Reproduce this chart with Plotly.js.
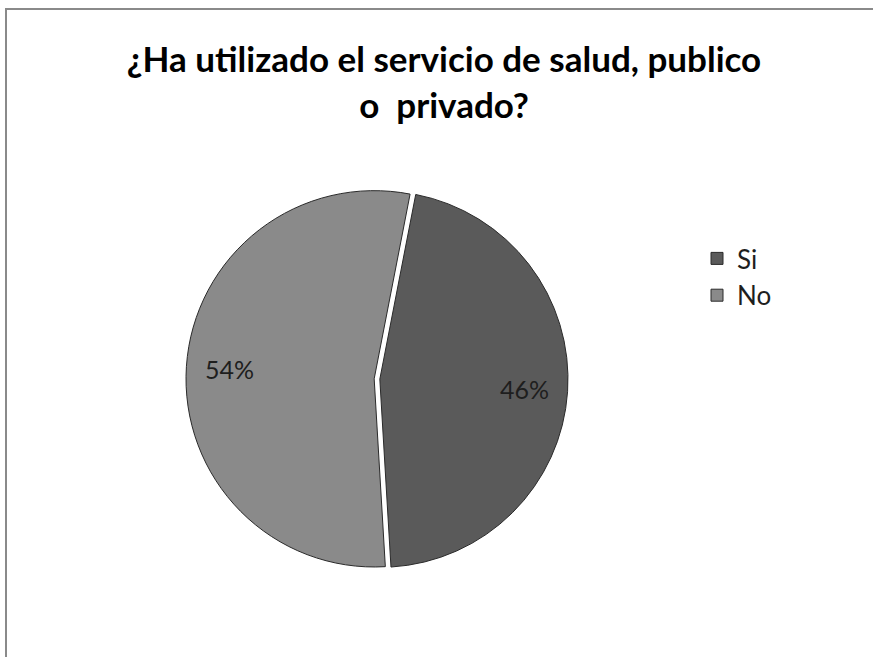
<!DOCTYPE html>
<html>
<head>
<meta charset="utf-8">
<script src="https://cdn.plot.ly/plotly-3.0.1.min.js"></script>
<style>
  html, body { margin: 0; padding: 0; background: #ffffff; }
  #chart { width: 873px; height: 657px; }
</style>
</head>
<body>
<div id="chart"></div>
<script>
// ---- data ----
var categories = ['Si', 'No'];
var values = [46, 54];
var sliceColors = ['#5a5a5a', '#8a8a8a'];
var titleText = '¿Ha utilizado el servicio de salud, publico<br>o  privado?';

// ---- layout geometry ----
var W = 873, H = 657;
var cx = 377, cy = 379, R = 191;   // pie centre / outer radius (px)
var pull = 0.015;
var rotation = 11;

var domX = [(cx - R) / W, (cx + R) / W];
var domY = [(H - cy - R) / H, (H - cy + R) / H];

// percent labels placed along each slice's mid-angle
var total = values.reduce(function (a, b) { return a + b; }, 0);
var rIn = R / (1 + pull);
var annotations = [];
var cum = 0;
values.forEach(function (v, i) {
  var mid = (rotation + (cum + v / 2) / total * 360) * Math.PI / 180;
  cum += v;
  var d = rIn * (0.77 + pull);
  var px = cx + d * Math.sin(mid);
  var py = cy - d * Math.cos(mid);
  annotations.push({
    xref: 'paper', yref: 'paper',
    x: px / W, y: (H - py) / H,
    text: Math.round(v / total * 100) + '%',
    showarrow: false,
    font: { family: 'Lato, sans-serif', size: 25, color: '#1e1e1e' },
    xanchor: 'center', yanchor: 'middle'
  });
});

var trace = {
  type: 'pie',
  labels: categories,
  values: values,
  sort: false,
  direction: 'clockwise',
  rotation: rotation,
  pull: values.map(function () { return pull; }),
  marker: { colors: sliceColors, line: { color: '#2a2a2a', width: 1 } },
  textinfo: 'none',
  hoverinfo: 'none',
  domain: { x: domX, y: domY }
};

var layout = {
  width: W, height: H,
  margin: { l: 0, r: 0, t: 0, b: 0 },
  paper_bgcolor: '#ffffff',
  plot_bgcolor: '#ffffff',
  title: {
    text: titleText,
    font: { family: 'Lato, sans-serif', size: 35, color: '#000000', weight: 'bold' },
    x: 444 / W, xanchor: 'center',
    y: 1 - 72 / H, yanchor: 'top',
    xref: 'paper', yref: 'paper'
  },
  showlegend: true,
  legend: {
    x: 697 / W, xanchor: 'left',
    y: (H - 277) / H, yanchor: 'middle',
    font: { family: 'Lato, sans-serif', size: 26, color: '#1e1e1e' },
    bgcolor: 'rgba(0,0,0,0)'
  },
  annotations: annotations,
  shapes: [{
    type: 'rect', xref: 'paper', yref: 'paper',
    x0: 6 / W, x1: 1.2, y0: -0.2, y1: (H - 9) / H,
    line: { color: '#8a8a8a', width: 2 },
    fillcolor: 'rgba(0,0,0,0)'
  }]
};

Plotly.newPlot('chart', [trace], layout, { displayModeBar: false, staticPlot: true });
</script>
</body>
</html>
